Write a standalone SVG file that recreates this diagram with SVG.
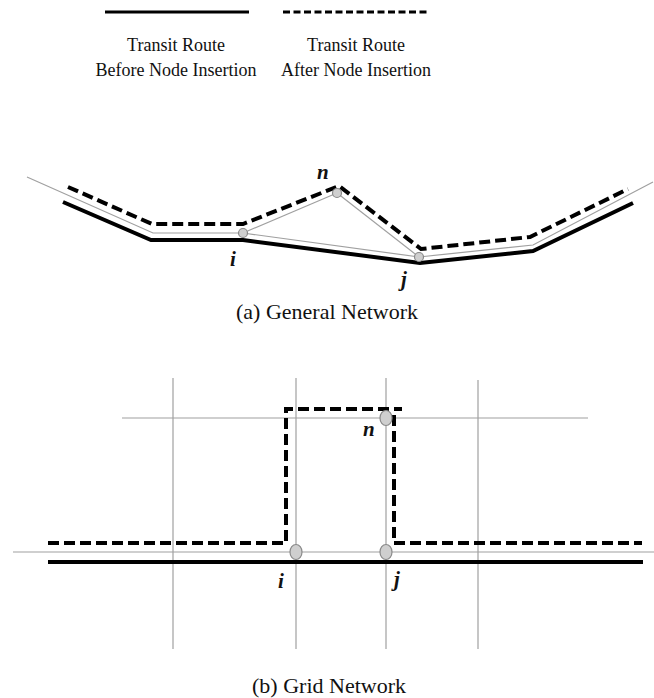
<svg xmlns="http://www.w3.org/2000/svg" width="654" height="698" viewBox="0 0 654 698">
<style>
.thin{fill:none;stroke:#a0a0a0;stroke-width:1.2}
.solid{fill:none;stroke:#000;stroke-width:4;stroke-linejoin:miter}
.dash{fill:none;stroke:#000;stroke-width:4;stroke-dasharray:11 5}
.node{fill:#cfcfcf;stroke:#8a8a8a;stroke-width:1.2}
.cap{font-family:"Liberation Serif","Times New Roman",serif;fill:#111;text-anchor:middle}
.lbl{font-family:"Liberation Serif","Times New Roman",serif;font-style:italic;font-weight:bold;fill:#111;font-size:21px}
</style>
<rect width="654" height="698" fill="#fff"/>
<g id="legend">
<line x1="105" y1="12" x2="249" y2="12" stroke="#000" stroke-width="3"/>
<line x1="283" y1="12" x2="427" y2="12" stroke="#000" stroke-width="3" stroke-dasharray="7 3.5"/>
<text class="cap" x="176" y="51" font-size="18">Transit Route</text>
<text class="cap" x="176" y="76" font-size="18">Before Node Insertion</text>
<text class="cap" x="356" y="51" font-size="18">Transit Route</text>
<text class="cap" x="356" y="76" font-size="18">After Node Insertion</text>
</g>
<g id="connectors">
<!-- general network -->
<polyline class="thin" points="27,177 153,233 243,233 419,257 533,245 653,182"/>
<line class="thin" x1="243" y1="233" x2="337" y2="193"/>
<line class="thin" x1="337" y1="193" x2="419" y2="257"/>
<polyline class="solid" points="63,202 151,240 243,240 420,263 533,251 633,203"/>
<polyline class="dash" points="68,187 152,224 243,224 339,186 421,249 530,237 628,189"/>
<!-- grid network -->
<g class="thin">
<line x1="173" y1="378" x2="173" y2="649"/>
<line x1="296" y1="378" x2="296" y2="649"/>
<line x1="386" y1="378" x2="386" y2="649"/>
<line x1="478" y1="380" x2="478" y2="649"/>
<line x1="122" y1="418" x2="588" y2="418"/>
<line x1="13" y1="552" x2="654" y2="552"/>
</g>
<line x1="48" y1="562" x2="643" y2="562" stroke="#000" stroke-width="4"/>
<polyline class="dash" points="48,543 286,543 286,409 402,409"/>
<polyline class="dash" points="394,415 394,543 642,543"/>
</g>
<g id="node-i-a"><circle class="node" cx="243" cy="233" r="4.5"/><text class="lbl" x="230" y="266">i</text></g>
<g id="node-n-a"><circle class="node" cx="337" cy="193" r="4.5"/><text class="lbl" x="317" y="179">n</text></g>
<g id="node-j-a"><circle class="node" cx="419" cy="257" r="4.5"/><text class="lbl" x="401" y="286">j</text></g>
<text class="cap" x="327" y="319" font-size="22">(a) General Network</text>
<g id="node-i-b"><ellipse class="node" cx="296" cy="552" rx="6" ry="7.5"/><text class="lbl" x="278" y="588">i</text></g>
<g id="node-j-b"><ellipse class="node" cx="386" cy="552" rx="6" ry="7.5"/><text class="lbl" x="394" y="586">j</text></g>
<g id="node-n-b"><ellipse class="node" cx="386" cy="418" rx="6" ry="7.5"/><text class="lbl" x="363" y="436">n</text></g>
<text class="cap" x="329" y="693" font-size="22">(b) Grid Network</text>
</svg>
